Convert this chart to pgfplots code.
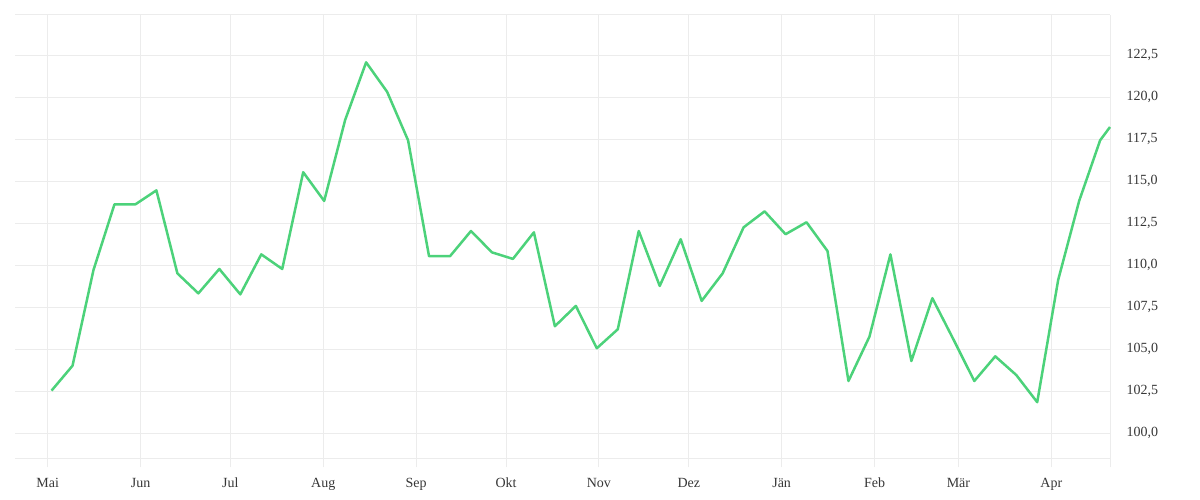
\documentclass[border=0pt]{standalone}
\usepackage{pgfplots}
\pgfplotsset{compat=1.18}
\usepackage{fontspec}
\setmainfont{Liberation Serif}
\definecolor{linegreen}{RGB}{76,210,122}
\definecolor{gridgray}{RGB}{236,236,236}
\definecolor{labelgray}{RGB}{55,55,55}

% x = days since 1 May, y = index value
\pgfplotstableread{
day    val
1.3    102.54
8.3    104.02
15.3   109.72
22.3   113.63
29.3   113.63
36.3   114.46
43.3   109.52
50.3   108.33
57.3   109.78
64.3   108.27
71.3   110.65
78.3   109.78
85.3   115.54
92.3   113.83
99.3   118.65
106.3  122.08
113.3  120.33
120.3  117.44
127.3  110.54
134.3  110.54
141.3  112.04
148.3  110.77
155.3  110.38
162.3  111.96
169.3  106.37
176.3  107.58
183.3  105.06
190.3  106.19
197.3  112.04
204.3  108.77
211.3  111.55
218.3  107.88
225.3  109.52
232.3  112.26
239.3  113.21
246.3  111.85
253.3  112.56
260.3  110.85
267.3  103.11
274.3  105.75
281.3  110.65
288.3  104.30
295.3  108.04
302.3  105.60
309.3  103.11
316.3  104.58
323.3  103.47
330.3  101.85
337.3  109.13
344.3  113.83
351.3  117.44
354.6  118.23
}\indexdata

\begin{document}
\begin{tikzpicture}
\begin{axis}[
    name=ax,
    width=1095pt, height=443.3pt, scale only axis,
    xmin=-10.9, xmax=354.6,
    ymin=98.51, ymax=124.9,
    axis line style={draw=none},
    xtick={0,31,61,92,123,153,184,214,245,276,304,335},
    xticklabels={Mai,Jun,Jul,Aug,Sep,Okt,Nov,Dez,Jän,Feb,Mär,Apr},
    extra x ticks={354.6},
    extra x tick labels={},
    ytick={100,102.5,...,122.5},
    extra y ticks={98.51,124.9},
    extra y tick labels={},
    xmajorgrids, ymajorgrids,
    grid style={gridgray, line width=1pt},
    xtick pos=bottom, ytick pos=right,
    xtick align=outside,
    major tick length=9pt,
    xtick style={gridgray, line width=1pt},
    ytick style={draw=none},
    yticklabel pos=right,
    tick label style={font=\fontsize{14}{16}\selectfont, text=labelgray},
    xticklabel style={anchor=north, text height=10pt, text depth=3pt, yshift=-7pt},
    yticklabel style={xshift=13pt, /pgf/number format/.cd, fixed, fixed zerofill, precision=1, use comma},
    /pgf/number format/assume math mode=true,
    clip=false,
]
\addplot[linegreen, line width=2.5pt, line join=round] table[x=day, y=val] {\indexdata};
\end{axis}
\path (ax.south west) ++(-15pt,-41.7pt) coordinate (bl);
\path (ax.north east) ++(90pt,15pt) coordinate (tr);
\path (bl) rectangle (tr);
\end{tikzpicture}
\end{document}
